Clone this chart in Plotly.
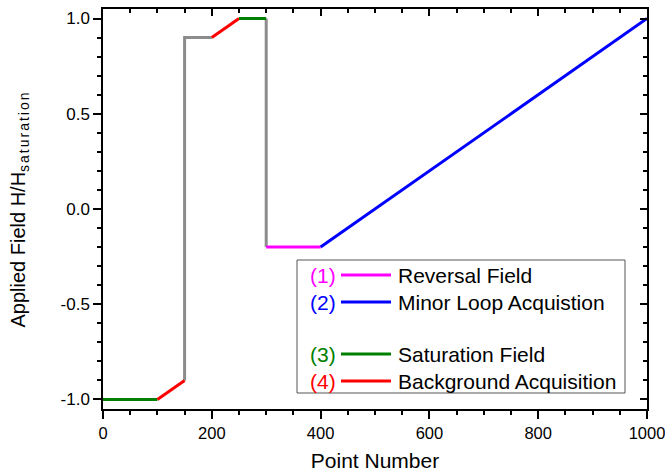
import plotly.graph_objects as go

# ---- data ----
green1_x = [0, 100]
green1_y = [-1.0, -1.0]
red1_x = [100, 150]
red1_y = [-1.0, -0.9]
gray1_x = [150, 150, 200]
gray1_y = [-0.9, 0.9, 0.9]
red2_x = [200, 250]
red2_y = [0.9, 1.0]
green2_x = [250, 300]
green2_y = [1.0, 1.0]
gray2_x = [300, 300]
gray2_y = [1.0, -0.2]
magenta_x = [300, 400]
magenta_y = [-0.2, -0.2]
blue_x = [400, 1000]
blue_y = [-0.2, 1.0]

x_tickvals = [0, 200, 400, 600, 800, 1000]
x_ticktext = ["0", "200", "400", "600", "800", "1000"]
y_tickvals = [-1.0, -0.5, 0.0, 0.5, 1.0]
y_ticktext = ["-1.0", "-0.5", "0.0", "0.5", "1.0"]

legend_nums = ["(1)", "(2)", "(3)", "(4)"]
legend_names = ["Reversal Field", "Minor Loop Acquistion", "Saturation Field", "Background Acquisition"]
legend_colors = ["#ff00ff", "#0000ff", "#008000", "#ff0000"]

FONT = "Liberation Sans"
GRAY = "#8c8c8c"
LW = 3

fig = go.Figure()
segments = [
    (gray1_x, gray1_y, GRAY),
    (gray2_x, gray2_y, GRAY),
    (green1_x, green1_y, "#008000"),
    (red1_x, red1_y, "#ff0000"),
    (red2_x, red2_y, "#ff0000"),
    (green2_x, green2_y, "#008000"),
    (magenta_x, magenta_y, "#ff00ff"),
    (blue_x, blue_y, "#0000ff"),
]
for sx, sy, c in segments:
    fig.add_trace(go.Scatter(x=sx, y=sy, mode="lines", line=dict(color=c, width=LW),
                             showlegend=False, hoverinfo="skip"))

# invisible trace to instantiate the mirrored (top/right) axes
fig.add_trace(go.Scatter(x=blue_x, y=blue_y, xaxis="x2", yaxis="y2", mode="lines",
                         line=dict(width=0), opacity=0, showlegend=False, hoverinfo="skip"))

XR = [0, 1000]
YR = [-1.05, 1.05]

axis_common = dict(showgrid=False, zeroline=False, showline=True, linecolor="black", linewidth=1.5,
                   tickcolor="black", tickwidth=1.5, automargin=False)

ML, MR, MT, MB = 103, 18, 9, 66

fig.update_layout(
    width=665, height=475,
    margin=dict(l=ML, r=MR, t=MT, b=MB),
    paper_bgcolor="white", plot_bgcolor="white",
    font=dict(family=FONT, color="black"),
    xaxis=dict(range=XR, tickmode="array", tickvals=x_tickvals, ticktext=x_ticktext,
               ticks="outside", ticklen=8, ticklabeloverflow="allow",
               minor=dict(ticks="outside", ticklen=4, dtick=50, tick0=0, tickcolor="black", tickwidth=1.5),
               tickfont=dict(size=16.5, family=FONT),
               title=dict(text="Point Number", font=dict(size=21, family=FONT), standoff=13),
               **axis_common),
    yaxis=dict(range=YR, tickmode="array", tickvals=y_tickvals, ticktext=y_ticktext,
               ticks="outside", ticklen=8,
               minor=dict(ticks="outside", ticklen=4, dtick=0.1, tick0=0, tickcolor="black", tickwidth=1.5),
               tickfont=dict(size=17, family=FONT),
               title=dict(text='Applied Field H/H<sub><span style="letter-spacing:2px">saturation</span></sub>',
                          font=dict(size=20, family=FONT), standoff=30),
               **axis_common),
    xaxis2=dict(range=XR, overlaying="x", side="top", tickmode="array", tickvals=x_tickvals,
                showticklabels=False, ticks="inside", ticklen=7,
                minor=dict(ticks="inside", ticklen=4, dtick=50, tick0=0, tickcolor="black", tickwidth=1.5),
                **axis_common),
    yaxis2=dict(range=YR, overlaying="y", side="right", tickmode="array", tickvals=y_tickvals,
                showticklabels=False, ticks="inside", ticklen=7,
                minor=dict(ticks="inside", ticklen=4, dtick=0.1, tick0=0, tickcolor="black", tickwidth=1.5),
                **axis_common),
)

# ---- custom legend box (paper coordinates) ----
PW = 665 - ML - MR
PH = 475 - MT - MB
def px(x):
    return (x - ML) / PW
def py(y):
    return (475 - MB - y) / PH

fig.add_shape(type="rect", xref="paper", yref="paper", x0=px(297), x1=px(625), y0=py(393), y1=py(260),
              line=dict(color="#555555", width=1), fillcolor="white", layer="above")
rows = [275, 302, 354, 381]
for num, name, col, ry in zip(legend_nums, legend_names, legend_colors, rows):
    fig.add_annotation(xref="paper", yref="paper", x=px(323), y=py(ry), text=num, showarrow=False,
                       font=dict(size=21, color=col, family=FONT), xanchor="center", yanchor="middle")
    fig.add_shape(type="line", xref="paper", yref="paper", x0=px(341), x1=px(391), y0=py(ry), y1=py(ry),
                  line=dict(color=col, width=LW), layer="above")
    fig.add_annotation(xref="paper", yref="paper", x=px(396), y=py(ry), text=name, showarrow=False,
                       font=dict(size=21, color="black", family=FONT), xanchor="left", yanchor="middle")

fig.write_html("out.html", config={"displayModeBar": False},
               post_script="document.body.style.margin='0';document.body.style.padding='0';"
                           "document.body.style.overflow='hidden';")
